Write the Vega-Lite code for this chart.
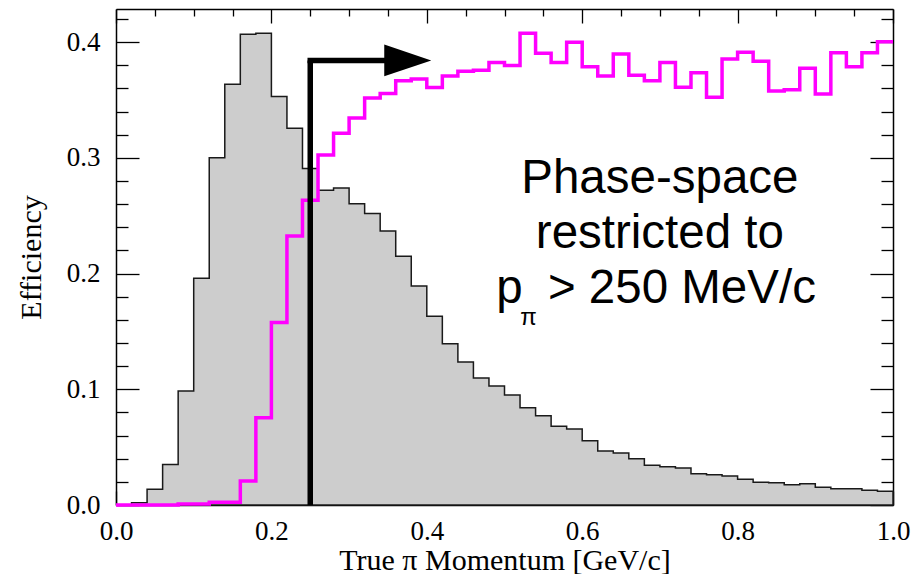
{
  "$schema": "https://vega.github.io/schema/vega-lite/v6.json",
  "width": 777,
  "height": 496,
  "autosize": {"type": "none"},
  "padding": {"left": 116, "top": 9, "right": 18, "bottom": 69},
  "background": "white",
  "config": {
    "view": {"stroke": null},
    "axis": {
      "grid": false,
      "labelFont": "Liberation Serif",
      "labelFontSize": 27,
      "labelColor": "black",
      "titleFont": "Liberation Serif",
      "titleFontSize": 30,
      "titleFontWeight": "normal",
      "titleColor": "black",
      "tickColor": "black",
      "tickWidth": 1.3,
      "domainColor": "black",
      "domainWidth": 1.5,
      "labelFlush": false,
      "labelOverlap": false,
      "zindex": 1
    }
  },
  "datasets": {
    "hist": [
      {"p": 0.00, "h": 0.000, "e": 0.000},
      {"p": 0.02, "h": 0.002, "e": 0.000},
      {"p": 0.04, "h": 0.0136, "e": 0.000},
      {"p": 0.06, "h": 0.035, "e": 0.000},
      {"p": 0.08, "h": 0.0985, "e": 0.0009},
      {"p": 0.10, "h": 0.196, "e": 0.0009},
      {"p": 0.12, "h": 0.300, "e": 0.0023},
      {"p": 0.14, "h": 0.3636, "e": 0.0023},
      {"p": 0.16, "h": 0.4068, "e": 0.0207},
      {"p": 0.18, "h": 0.4077, "e": 0.0755},
      {"p": 0.20, "h": 0.3529, "e": 0.1576},
      {"p": 0.22, "h": 0.3256, "e": 0.2325},
      {"p": 0.24, "h": 0.2907, "e": 0.2634},
      {"p": 0.26, "h": 0.2720, "e": 0.3025},
      {"p": 0.28, "h": 0.2740, "e": 0.3213},
      {"p": 0.30, "h": 0.2604, "e": 0.3345},
      {"p": 0.32, "h": 0.2518, "e": 0.3517},
      {"p": 0.34, "h": 0.2368, "e": 0.3555},
      {"p": 0.36, "h": 0.2149, "e": 0.3666},
      {"p": 0.38, "h": 0.1893, "e": 0.3682},
      {"p": 0.40, "h": 0.1631, "e": 0.3607},
      {"p": 0.42, "h": 0.1394, "e": 0.3708},
      {"p": 0.44, "h": 0.1236, "e": 0.3748},
      {"p": 0.46, "h": 0.1098, "e": 0.3757},
      {"p": 0.48, "h": 0.1029, "e": 0.3823},
      {"p": 0.50, "h": 0.0951, "e": 0.3797},
      {"p": 0.52, "h": 0.0841, "e": 0.4077},
      {"p": 0.54, "h": 0.0772, "e": 0.3904},
      {"p": 0.56, "h": 0.068, "e": 0.3823},
      {"p": 0.58, "h": 0.0657, "e": 0.3999},
      {"p": 0.60, "h": 0.0556, "e": 0.3788},
      {"p": 0.62, "h": 0.0467, "e": 0.3708},
      {"p": 0.64, "h": 0.0449, "e": 0.3898},
      {"p": 0.66, "h": 0.040, "e": 0.3714},
      {"p": 0.68, "h": 0.0343, "e": 0.3665},
      {"p": 0.70, "h": 0.0331, "e": 0.3823},
      {"p": 0.72, "h": 0.032, "e": 0.361},
      {"p": 0.74, "h": 0.027, "e": 0.3736},
      {"p": 0.76, "h": 0.0262, "e": 0.3524},
      {"p": 0.78, "h": 0.0251, "e": 0.3855},
      {"p": 0.80, "h": 0.0222, "e": 0.3913},
      {"p": 0.82, "h": 0.0196, "e": 0.3835},
      {"p": 0.84, "h": 0.0193, "e": 0.3578},
      {"p": 0.86, "h": 0.0176, "e": 0.3589},
      {"p": 0.88, "h": 0.0184, "e": 0.3774},
      {"p": 0.90, "h": 0.0153, "e": 0.3552},
      {"p": 0.92, "h": 0.0141, "e": 0.3907},
      {"p": 0.94, "h": 0.0141, "e": 0.3786},
      {"p": 0.96, "h": 0.0127, "e": 0.3907},
      {"p": 0.98, "h": 0.0118, "e": 0.4002},
      {"p": 1.00, "h": 0.0118, "e": 0.4002}
    ],
    "arrow": [
      {"x0": 0.25, "y0": 0, "y1": 0.3842, "x1": 0.35, "xt": 0.3755}
    ],
    "label": [
      {"x": 0.70, "y": 0.2694, "t": "Phase-space"},
      {"x": 0.70, "y": 0.2221, "t": "restricted to"},
      {"x": 0.5064, "y": 0.1746, "t": "p"},
      {"x": 0.7283, "y": 0.1746, "t": "> 250 MeV/c"}
    ],
    "sub": [
      {"x": 0.531, "y": 0.1556, "t": "π"}
    ]
  },
  "resolve": {
    "scale": {"x": "shared", "y": "shared"},
    "axis": {"x": "independent", "y": "independent"}
  },
  "layer": [
    {
      "data": {"name": "hist"},
      "mark": {"type": "area", "interpolate": "step-after", "fill": "#cdcdcd", "stroke": "#1a1a1a", "strokeWidth": 1.5},
      "encoding": {
        "x": {
          "field": "p", "type": "quantitative",
          "scale": {"domain": [0, 1], "nice": false, "zero": false},
          "axis": {"orient": "bottom", "values": [0, 0.2, 0.4, 0.6, 0.8, 1.0], "format": ".1f", "tickSize": -14, "labelPadding": 27, "title": "True π Momentum [GeV/c]", "titlePadding": 1}
        },
        "y": {
          "field": "h", "type": "quantitative",
          "scale": {"domain": [0, 0.4286], "nice": false},
          "axis": {"orient": "left", "values": [0, 0.1, 0.2, 0.3, 0.4], "format": ".1f", "tickSize": -23, "labelPadding": 39, "title": "Efficiency", "titlePadding": 20}
        }
      }
    },
    {
      "data": {"name": "hist"},
      "mark": {"type": "line", "interpolate": "step-after", "color": "#ff00ff", "strokeWidth": 3.5},
      "encoding": {
        "x": {
          "field": "p", "type": "quantitative",
          "axis": {"orient": "bottom", "values": [0.05, 0.1, 0.15, 0.25, 0.3, 0.35, 0.45, 0.5, 0.55, 0.65, 0.7, 0.75, 0.85, 0.9, 0.95], "tickSize": -7, "labels": false, "domain": false, "title": null}
        },
        "y": {
          "field": "e", "type": "quantitative",
          "axis": {"orient": "left", "values": [0.02, 0.04, 0.06, 0.08, 0.12, 0.14, 0.16, 0.18, 0.22, 0.24, 0.26, 0.28, 0.32, 0.34, 0.36, 0.38, 0.42], "tickSize": -12, "labels": false, "domain": false, "title": null}
        }
      }
    },
    {
      "data": {"name": "arrow"},
      "mark": {"type": "rule", "color": "black", "strokeWidth": 5.5, "strokeCap": "butt"},
      "encoding": {
        "x": {
          "field": "x0", "type": "quantitative",
          "axis": {"orient": "top", "values": [0, 0.2, 0.4, 0.6, 0.8, 1.0], "tickSize": -14, "labels": false, "title": null}
        },
        "y": {
          "field": "y0", "type": "quantitative",
          "axis": {"orient": "right", "values": [0, 0.1, 0.2, 0.3, 0.4], "tickSize": -23, "labels": false, "title": null}
        },
        "y2": {"field": "y1"}
      }
    },
    {
      "data": {"name": "arrow"},
      "mark": {"type": "rule", "color": "black", "strokeWidth": 5.5, "strokeCap": "square"},
      "encoding": {
        "x": {
          "field": "x0", "type": "quantitative",
          "axis": {"orient": "top", "values": [0.05, 0.1, 0.15, 0.25, 0.3, 0.35, 0.45, 0.5, 0.55, 0.65, 0.7, 0.75, 0.85, 0.9, 0.95], "tickSize": -7, "labels": false, "domain": false, "title": null}
        },
        "x2": {"field": "x1"},
        "y": {
          "field": "y1", "type": "quantitative",
          "axis": {"orient": "right", "values": [0.02, 0.04, 0.06, 0.08, 0.12, 0.14, 0.16, 0.18, 0.22, 0.24, 0.26, 0.28, 0.32, 0.34, 0.36, 0.38, 0.42], "tickSize": -12, "labels": false, "domain": false, "title": null}
        }
      }
    },
    {
      "data": {"name": "arrow"},
      "mark": {"type": "point", "shape": "M -1 -0.68 L 1 0 L -1 0.68 Z", "size": 2209, "filled": true, "color": "black", "opacity": 1},
      "encoding": {
        "x": {"field": "xt", "type": "quantitative", "axis": null},
        "y": {"field": "y1", "type": "quantitative", "axis": null}
      }
    },
    {
      "data": {"name": "label"},
      "mark": {"type": "text", "font": "Liberation Sans", "fontSize": 47.5, "color": "black", "align": "center", "baseline": "alphabetic"},
      "encoding": {
        "x": {"field": "x", "type": "quantitative", "axis": null},
        "y": {"field": "y", "type": "quantitative", "axis": null},
        "text": {"field": "t"}
      }
    },
    {
      "data": {"name": "sub"},
      "mark": {"type": "text", "font": "Liberation Sans", "fontSize": 24, "color": "black", "align": "center", "baseline": "alphabetic"},
      "encoding": {
        "x": {"field": "x", "type": "quantitative", "axis": null},
        "y": {"field": "y", "type": "quantitative", "axis": null},
        "text": {"field": "t"}
      }
    }
  ]
}
